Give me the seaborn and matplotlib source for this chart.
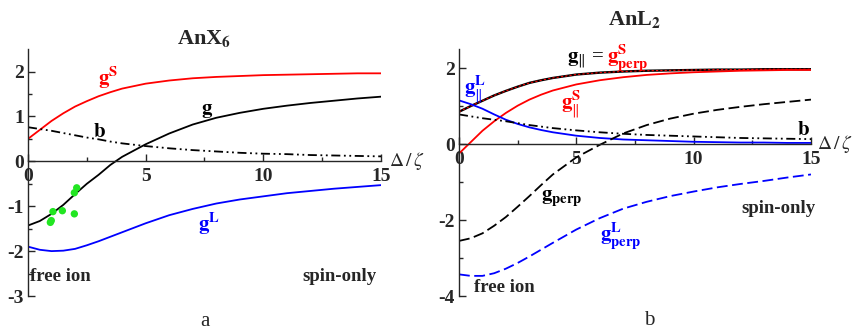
import matplotlib
matplotlib.use("Agg")
import matplotlib.pyplot as plt
import seaborn as sns
import pandas as pd
import numpy as np

# shared abscissa (Delta / zeta)
x = [0, 0.5, 1, 1.5, 2, 2.5, 3, 3.5, 4, 5, 6, 7, 8, 9, 10, 11, 12, 13, 14, 15]

# === panel a : AnX6 ===
a_gS = [0.50, 0.70, 0.90, 1.07, 1.22, 1.34, 1.45, 1.54, 1.62, 1.73, 1.80, 1.85, 1.88, 1.90, 1.92, 1.93, 1.94, 1.95, 1.96, 1.96]
a_g = [-1.43, -1.33, -1.17, -0.97, -0.73, -0.50, -0.30, -0.08, 0.10, 0.38, 0.62, 0.82, 0.97, 1.08, 1.17, 1.24, 1.30, 1.35, 1.40, 1.44]
a_b = [0.76, 0.72, 0.68, 0.63, 0.58, 0.53, 0.49, 0.44, 0.40, 0.34, 0.29, 0.25, 0.22, 0.19, 0.17, 0.16, 0.14, 0.13, 0.12, 0.11]
a_gL = [-1.90, -1.97, -2.00, -1.99, -1.95, -1.87, -1.78, -1.68, -1.58, -1.38, -1.20, -1.06, -0.94, -0.85, -0.78, -0.71, -0.66, -0.61, -0.57, -0.53]
exp_x = [2.07, 1.97, 1.06, 1.46, 1.97, 0.99, 0.95]
exp_y = [-0.59, -0.70, -1.12, -1.10, -1.17, -1.32, -1.36]

# === panel b : AnL2 ===
b_gpar = [0.85, 1.00, 1.14, 1.28, 1.40, 1.51, 1.61, 1.68, 1.74, 1.83, 1.88, 1.91, 1.93, 1.94, 1.95, 1.96, 1.96, 1.97, 1.97, 1.97]
b_gSperp = b_gpar
b_gSpar = [-0.25, 0.05, 0.35, 0.60, 0.82, 1.01, 1.17, 1.30, 1.41, 1.57, 1.68, 1.76, 1.82, 1.86, 1.89, 1.91, 1.93, 1.94, 1.95, 1.95]
b_gLpar = [1.15, 1.05, 0.93, 0.78, 0.64, 0.53, 0.44, 0.37, 0.31, 0.22, 0.16, 0.12, 0.10, 0.08, 0.06, 0.05, 0.04, 0.04, 0.03, 0.03]
b_b = [0.78, 0.73, 0.68, 0.64, 0.60, 0.55, 0.50, 0.46, 0.42, 0.36, 0.31, 0.27, 0.24, 0.22, 0.20, 0.18, 0.16, 0.15, 0.14, 0.13]
b_gperp = [-2.55, -2.48, -2.35, -2.15, -1.92, -1.65, -1.37, -1.08, -0.80, -0.35, -0.02, 0.28, 0.50, 0.67, 0.80, 0.90, 0.98, 1.05, 1.11, 1.17]
b_gLperp = [-3.43, -3.47, -3.47, -3.40, -3.28, -3.13, -2.96, -2.78, -2.60, -2.25, -1.95, -1.70, -1.52, -1.37, -1.25, -1.14, -1.05, -0.97, -0.88, -0.80]

sns.set_style("ticks")
plt.rcParams['font.family'] = ['Liberation Serif', 'DejaVu Serif']
plt.rcParams['mathtext.fontset'] = 'stix'

RED, BLUE, BLACK = '#ff0000', '#0000ff', '#000000'
LW = 1.3
DASH = (0, (6, 2.5))
DASHDOTDOT = (0, (5, 2, 1, 2, 1, 2))

fig = plt.figure(figsize=(8.56, 3.31), dpi=100)
ax1 = fig.add_axes([0.0327, 0.1057, 0.4124, 0.746])
ax2 = fig.add_axes([0.5362, 0.1057, 0.4112, 0.746])


def style_axis(ax, ylim, ymaj, ymin, ylabels, dz_x):
    ax.set_xlim(0, 15)
    ax.set_ylim(*ylim)
    ax.spines['top'].set_visible(False)
    ax.spines['right'].set_visible(False)
    ax.spines['bottom'].set_position(('data', 0))
    ax.spines['left'].set_linewidth(1.0)
    ax.spines['bottom'].set_linewidth(1.0)
    ax.set_xticks([0, 5, 10, 15])
    ax.set_xticks([2.5, 7.5, 12.5], minor=True)
    ax.set_xticklabels(['0', '5', '10', '15'], fontweight='bold', fontsize=14)
    ax.set_yticks(ymaj)
    ax.set_yticks(ymin, minor=True)
    ax.set_yticklabels(ylabels, fontweight='bold', fontsize=14)
    ax.tick_params(axis='x', which='major', direction='in', length=5, width=1, pad=5)
    ax.tick_params(axis='x', which='minor', direction='in', length=3, width=1)
    ax.tick_params(axis='y', which='major', direction='in', length=5, width=1, pad=3)
    ax.tick_params(axis='y', which='minor', direction='in', length=3, width=1)
    ax.set_xlabel('')
    ax.set_ylabel('')
    ax.text(dz_x, 0, r'$\Delta\,/\,\zeta$', fontsize=14, va='center', ha='left',
            clip_on=False)


# panel a
sns.lineplot(x=x, y=a_gS, ax=ax1, color=RED, lw=LW)
sns.lineplot(x=x, y=a_g, ax=ax1, color=BLACK, lw=LW)
sns.lineplot(x=x, y=a_b, ax=ax1, color=BLACK, lw=LW, linestyle=DASHDOTDOT)
sns.lineplot(x=x, y=a_gL, ax=ax1, color=BLUE, lw=LW)
sns.scatterplot(x=exp_x, y=exp_y, ax=ax1, color='#22e622', s=28, edgecolor='none', zorder=5)
style_axis(ax1, (-3, 2.5), [-3, -2, -1, 0, 1, 2], np.arange(-2.5, 2.5, 1.0),
           ['-3', '-2', '-1', '0', '1', '2'], 15.35)
ax1.set_title(r'AnX$_\mathbf{6}$', fontsize=16, fontweight='bold', pad=4)
ax1.text(3.4, 1.7, r'$\mathbf{g^S}$', color=RED, fontsize=15, ha='center')
ax1.text(7.6, 1.05, r'$\mathbf{g}$', color=BLACK, fontsize=15, ha='center')
ax1.text(3.05, 0.55, r'$\mathbf{b}$', color=BLACK, fontsize=15, ha='center')
ax1.text(7.7, -1.55, r'$\mathbf{g^L}$', color=BLUE, fontsize=15, ha='center')
ax1.text(0.1, -2.57, 'free ion', fontsize=13.5, fontweight='bold', va='center')
ax1.text(14.8, -2.57, 'spin-only', fontsize=13.5, fontweight='bold', va='center', ha='right')
ax1.text(7.5, -3.57, 'a', fontsize=15, ha='center', va='center', clip_on=False)

# panel b
sns.lineplot(x=x, y=b_gpar, ax=ax2, color=BLACK, lw=LW + 0.4)
sns.lineplot(x=x, y=b_gSperp, ax=ax2, color=RED, lw=LW * 0.6, linestyle=(0, (2, 2)))
sns.lineplot(x=x, y=b_gSpar, ax=ax2, color=RED, lw=LW)
sns.lineplot(x=x, y=b_gLpar, ax=ax2, color=BLUE, lw=LW)
sns.lineplot(x=x, y=b_b, ax=ax2, color=BLACK, lw=LW, linestyle=DASHDOTDOT)
sns.lineplot(x=x, y=b_gperp, ax=ax2, color=BLACK, lw=LW, linestyle=DASH)
sns.lineplot(x=x, y=b_gLperp, ax=ax2, color=BLUE, lw=LW, linestyle=DASH)
style_axis(ax2, (-4, 2.5), [-4, -2, 0, 2], [-3, -1, 1],
           ['-4', '-2', '0', '2'], 15.25)
ax2.set_title(r'AnL$_\mathbf{2}$', fontsize=16, fontweight='bold', pad=17)
ax2.text(4.6, 2.15, r'$\mathbf{g}_{\Vert}$ =', color=BLACK, fontsize=15, ha='left')
ax2.text(6.3, 2.15, r'$\mathbf{g^S_{perp}}$', color=RED, fontsize=15, ha='left')
ax2.text(0.2, 1.3, r'$\mathbf{g}^{\mathbf{L}}_{\Vert}$', color=BLUE, fontsize=15, ha='left')
ax2.text(4.35, 0.9, r'$\mathbf{g}^{\mathbf{S}}_{\Vert}$', color=RED, fontsize=15, ha='left')
ax2.text(14.7, 0.25, r'$\mathbf{b}$', color=BLACK, fontsize=15, ha='center')
ax2.text(3.5, -1.5, r'$\mathbf{g_{perp}}$', color=BLACK, fontsize=15, ha='left')
ax2.text(6.0, -2.55, r'$\mathbf{g^L_{perp}}$', color=BLUE, fontsize=15, ha='left')
ax2.text(15.2, -1.7, 'spin-only', fontsize=13.5, fontweight='bold', va='center', ha='right')
ax2.text(0.65, -3.78, 'free ion', fontsize=13.5, fontweight='bold', va='center')
ax2.text(8.1, -4.65, 'b', fontsize=15, ha='center', va='center', clip_on=False)

fig.savefig('out.png', dpi=100)
